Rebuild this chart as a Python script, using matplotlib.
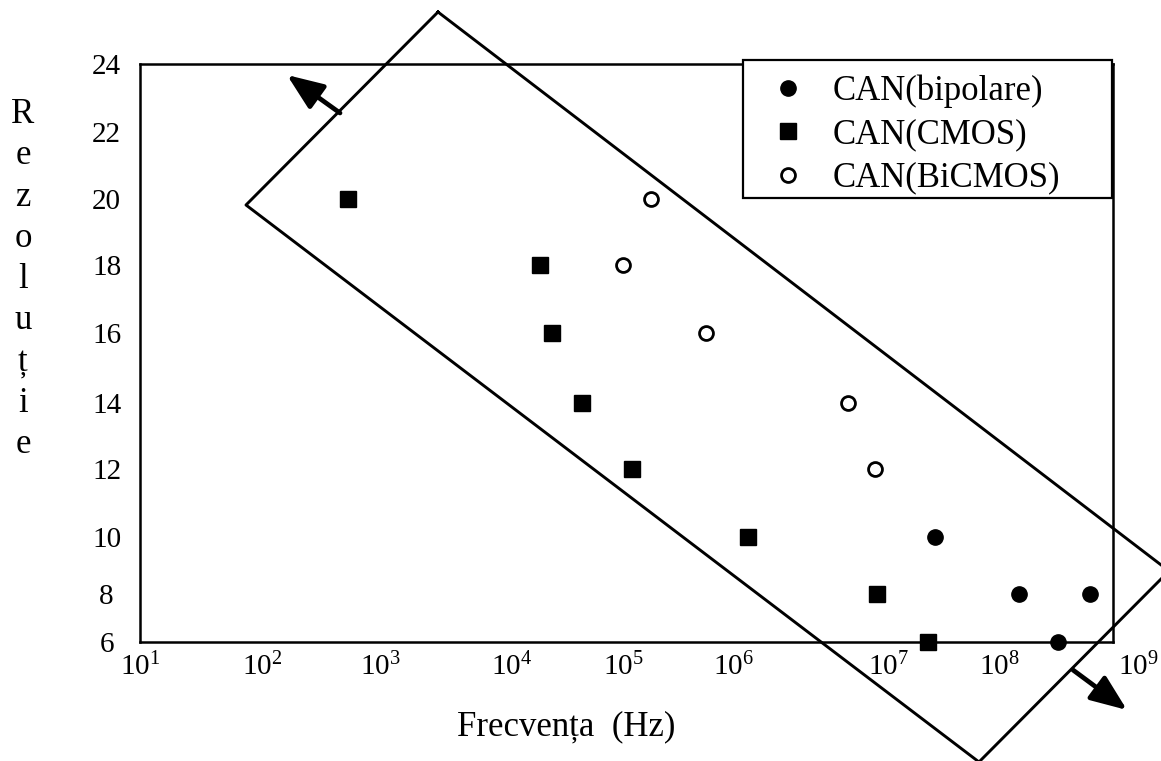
import numpy as np
import matplotlib
matplotlib.use('Agg')
import matplotlib.pyplot as plt
from matplotlib.lines import Line2D
from matplotlib.patches import Rectangle, FancyArrowPatch
from matplotlib.transforms import ScaledTranslation

plt.rcParams['font.family'] = ['Liberation Serif', 'DejaVu Serif']
plt.rcParams['mathtext.fontset'] = 'custom'
plt.rcParams['mathtext.rm'] = 'Liberation Serif'

# rezolutie (biti) functie de frecventa de esantionare (Hz)
bip_freq = [2.65e7, 1.5e8, 6.3e8, 3.3e8]
bip_bits = [10, 8, 8, 6]
cmos_freq = [5.4e2, 1.8e4, 2.3e4, 4.3e4, 1.2e5, 1.25e6, 8.5e6, 2.3e7]
cmos_bits = [20, 18, 16, 14, 12, 10, 8, 6]
bicmos_freq = [1.8e5, 1.0e5, 5.7e5, 5.5e6, 8.3e6]
bicmos_bits = [20, 18, 16, 14, 12]

x_decades = [1, 2, 3, 4, 5, 6, 7, 8, 9]
y_ticks = [6, 8, 10, 12, 14, 16, 18, 20, 22, 24]

# hand-spaced axes: tick positions along each axis (pixels)
x_knots = [140, 262, 380, 512, 623, 733, 888, 999, 1113]
y_knots = [641, 593, 536, 468, 402, 333, 265, 199, 132, 64]

W, H = 1161, 761


def fwd_x(f):
    return np.interp(np.log10(np.maximum(f, 1e-12)), x_decades, x_knots)


def inv_x(p):
    return 10 ** np.interp(p, x_knots, x_decades)


def fwd_y(v):
    return -np.interp(v, y_ticks, y_knots)


def inv_y(p):
    return np.interp(-np.asarray(p), y_knots[::-1], y_ticks[::-1])


def fig_xy(x, y):
    return x / W, 1 - y / H


fig = plt.figure(figsize=(W / 100, H / 100), dpi=100)
ax = fig.add_axes([140 / W, 1 - 642 / H, (1113 - 140) / W, (642 - 64) / H])
ax.set_xscale('function', functions=(fwd_x, inv_x))
ax.set_yscale('function', functions=(fwd_y, inv_y))

h_bip, = ax.plot(bip_freq, bip_bits, 'o', ms=11, color='k', clip_on=False, zorder=5)
h_cmos, = ax.plot(cmos_freq, cmos_bits, 's', ms=12, color='k', clip_on=False, zorder=5)
h_bic, = ax.plot(bicmos_freq, bicmos_bits, 'o', ms=10, mfc='white', mec='k', mew=2,
                 clip_on=False, zorder=5)

ax.set_xlim(10, 1e9)
ax.set_ylim(6, 24)
ax.set_xticks([10.0 ** d for d in x_decades])
ax.set_xticklabels(['$\\mathregular{10^{%d}}$' % d for d in x_decades])
ax.set_yticks(y_ticks)
ax.set_yticklabels([str(v) for v in y_ticks])
ax.minorticks_off()
ax.tick_params(axis='x', length=0, pad=8, labelsize=21)
ax.tick_params(axis='y', length=0, pad=24, labelsize=21)
for lab in ax.get_yticklabels():
    lab.set_horizontalalignment('center')
# last decade label sits past the end of the axis
last = ax.get_xticklabels()[-1]
last.set_transform(last.get_transform() + ScaledTranslation(0.25, 0, fig.dpi_scale_trans))
for sp in ax.spines.values():
    sp.set_linewidth(1.8)
    sp.set_color('k')

# legend box
x0, y0 = fig_xy(743, 198)
x1, y1 = fig_xy(1112, 60)
fig.add_artist(Rectangle((x0, y0), x1 - x0, y1 - y0, transform=fig.transFigure,
                         facecolor='white', edgecolor='k', lw=1.6, zorder=4))
fig.legend([h_bip, h_cmos, h_bic], ['CAN(bipolare)', 'CAN(CMOS)', 'CAN(BiCMOS)'],
           loc='upper left', bbox_to_anchor=fig_xy(753, 57), bbox_transform=fig.transFigure,
           frameon=False, borderpad=0, handlelength=1.0, handletextpad=0.78,
           labelspacing=0.3, fontsize=25, markerscale=1.0).set_zorder(5)

# tilted region around the data
corners = [(438, 12), (1169, 571), (979, 762), (246, 205), (438, 12)]
px = [fig_xy(cx, cy) for cx, cy in corners]
fig.add_artist(Line2D([p[0] for p in px], [p[1] for p in px], transform=fig.transFigure,
                      color='k', lw=2.1, zorder=6))
for tail, tip in [((340, 113), (287, 75)), ((1073, 670), (1127, 710))]:
    fig.add_artist(FancyArrowPatch(fig_xy(*tail), fig_xy(*tip), transform=fig.transFigure,
                                   arrowstyle='-|>,head_length=0.85,head_width=0.34',
                                   mutation_scale=26, lw=3.4, color='k',
                                   shrinkA=0, shrinkB=0, zorder=6))

# axis titles
fig.text(*fig_xy(566, 735), 'Frecvența  (Hz)', ha='center', va='baseline', fontsize=25)
for i, ch in enumerate('Rezoluție'):
    fig.text(*fig_xy(23, 123 + 41.25 * i), ch, ha='center', va='baseline', fontsize=25)

fig.savefig('out.png', dpi=100)
